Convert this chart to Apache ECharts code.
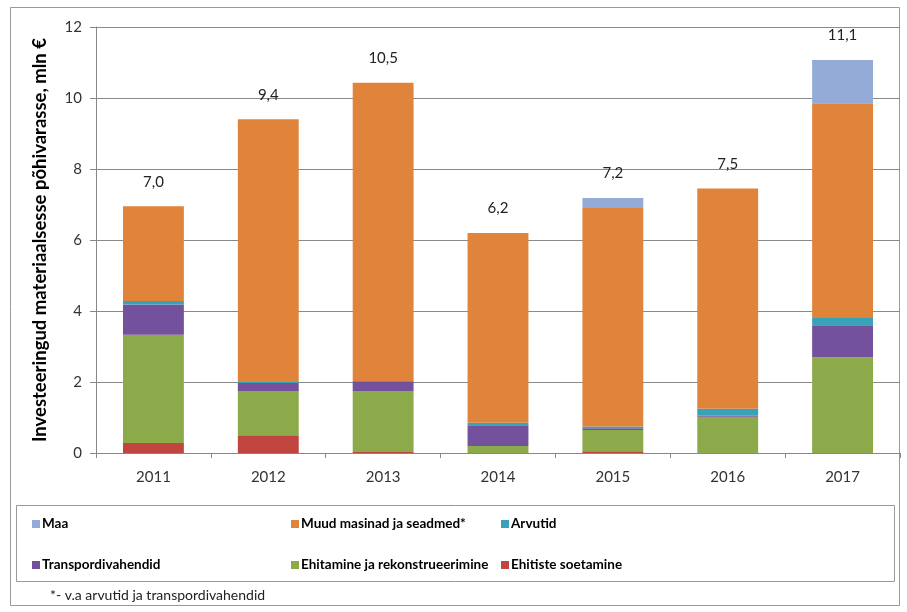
<!DOCTYPE html>
<html><head><meta charset="utf-8">
<script src="https://cdn.jsdelivr.net/npm/echarts@6/dist/echarts.min.js"></script>
<style>html,body{margin:0;padding:0;background:#fff}#c{width:907px;height:612px}</style>
</head><body><div id="c"></div>
<script>
const years = ['2011','2012','2013','2014','2015','2016','2017'];
const ehitisteSoetamine = [0.28, 0.50, 0.03, 0.00, 0.05, 0.00, 0.00];
const ehitamine = [3.05, 1.25, 1.70, 0.20, 0.60, 1.02, 2.70];
const transport = [0.85, 0.22, 0.27, 0.58, 0.05, 0.03, 0.90];
const arvutid = [0.10, 0.03, 0.03, 0.07, 0.05, 0.20, 0.20];
const muud = [2.67, 7.40, 8.40, 5.35, 6.15, 6.20, 6.05];
const maa = [0.00, 0.00, 0.00, 0.00, 0.28, 0.00, 1.22];
const totalLabels = ['7,0','9,4','10,5','6,2','7,2','7,5','11,1'];
const yTicks = [0, 2, 4, 6, 8, 10, 12];

const FONT = 'Lato, "Liberation Sans", sans-serif';
const colors = {
  'Maa': '#93ABD6',
  'Muud masinad ja seadmed*': '#E0843C',
  'Arvutid': '#3AA2B8',
  'Transpordivahendid': '#73519C',
  'Ehitamine ja rekonstrueerimine': '#8DAA4A',
  'Ehitiste soetamine': '#C0453F'
};
function bar(name, data) {
  return { name, type: 'bar', stack: 'a', data, barWidth: '53%',
    itemStyle: { color: colors[name] }, emphasis: { disabled: true } };
}
const series = [
  bar('Ehitiste soetamine', ehitisteSoetamine),
  bar('Ehitamine ja rekonstrueerimine', ehitamine),
  bar('Transpordivahendid', transport),
  bar('Arvutid', arvutid),
  bar('Muud masinad ja seadmed*', muud),
  bar('Maa', maa),
  { name: 'total', type: 'bar', stack: 'a', data: years.map(() => 0), barWidth: '53%',
    itemStyle: { color: 'transparent' },
    label: { show: true, position: 'top', distance: 17, fontFamily: FONT, fontSize: 15, color: '#222',
      formatter: p => totalLabels[p.dataIndex] } }
];
function legend(items, left) {
  return { data: items, orient: 'vertical', left, top: 512, itemGap: 27, itemWidth: 8, itemHeight: 8,
    icon: 'rect', selectedMode: false,
    textStyle: { fontFamily: FONT, fontSize: 13.5, fontWeight: 'bold', color: '#000', padding: [0,0,0,-3] } };
}
const chart = echarts.init(document.getElementById('c'), null, { renderer: 'canvas' });
chart.setOption({
  animation: false,
  backgroundColor: '#fff',
  grid: { left: 96, right: 7, top: 27, bottom: 159 },
  xAxis: { type: 'category', data: years,
    axisLine: { lineStyle: { color: '#888', width: 1 } },
    axisTick: { show: true, length: 5, lineStyle: { color: '#888' } },
    axisLabel: { fontFamily: FONT, fontSize: 15, color: '#333', margin: 17 } },
  yAxis: { type: 'value', min: yTicks[0], max: yTicks[yTicks.length-1], interval: 2,
    name: 'Investeeringud materiaalsesse põhivarasse, mln €', nameLocation: 'middle', nameGap: 46,
    nameTextStyle: { fontFamily: FONT, fontSize: 18.5, fontWeight: 'bold', color: '#000' },
    axisLine: { show: true, lineStyle: { color: '#888' } },
    axisTick: { show: true, length: 6, lineStyle: { color: '#888' } },
    axisLabel: { fontFamily: FONT, fontSize: 15, color: '#333', margin: 14 },
    splitLine: { lineStyle: { color: '#8a8a8a', width: 1 } } },
  legend: [
    legend(['Maa', 'Transpordivahendid'], 27),
    legend(['Muud masinad ja seadmed*', 'Ehitamine ja rekonstrueerimine'], 286),
    legend(['Arvutid', 'Ehitiste soetamine'], 496)
  ],
  graphic: [
    { type: 'rect', shape: { x: 10.5, y: 7.5, width: 889, height: 598 }, silent: true, z: -1,
      style: { fill: null, stroke: '#999', lineWidth: 1 } },
    { type: 'rect', shape: { x: 16.5, y: 505.5, width: 878, height: 76 }, silent: true, z: -1,
      style: { fill: null, stroke: '#999', lineWidth: 1 } },
    { type: 'text', left: 50, top: 588, silent: true,
      style: { text: '*- v.a arvutid ja transpordivahendid', font: '14px ' + FONT, fill: '#222' } }
  ],
  series
});
</script></body></html>
